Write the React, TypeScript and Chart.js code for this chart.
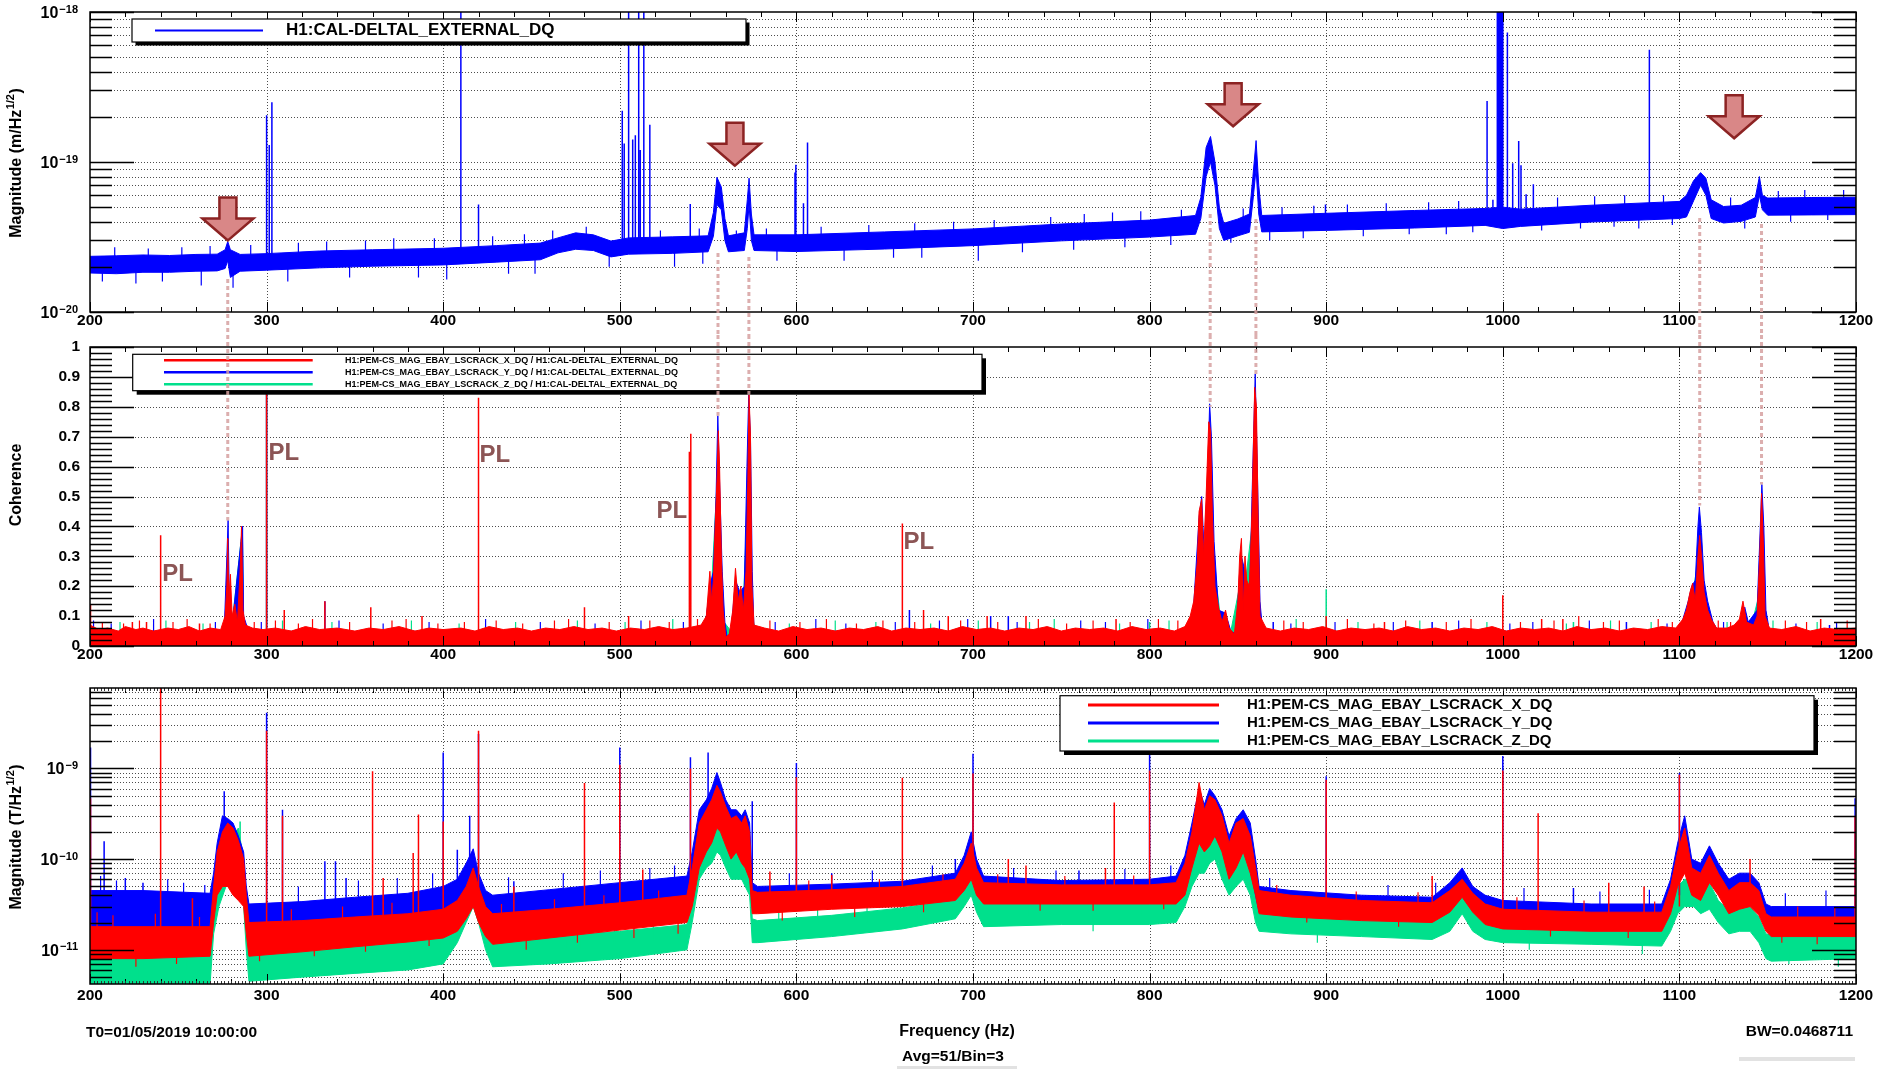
import React, { useEffect, useRef } from "react";
import { Chart, registerables } from "chart.js";

Chart.register(...registerables);

// ---------------- shared ----------------
const FF = "'Liberation Sans', Arial, Helvetica, sans-serif";
const PAGE_W = 1880;
const FREQ_MIN = 200;
const FREQ_MAX = 1200;
const FREQ_TICKS = [200, 300, 400, 500, 600, 700, 800, 900, 1000, 1100, 1200];
const FREQ_MINOR_STEP = 20;

const BLUE = "#0000ff";
const RED = "#ff0000";
const GREEN = "#00e08c";
const LINK_COLOR = "rgba(214,160,160,0.85)";
const ARROW_FILL = "#d98787";
const ARROW_EDGE = "#8c2323";
const PL_COLOR = "#8c5555";

// ---------------- panel 1 : DARM ASD ----------------
const DARM_RANGE = [1e-20, 1e-18];
const DARM_LEGEND = "H1:CAL-DELTAL_EXTERNAL_DQ";
// [frequency, lower edge, upper edge] of the noise band
const DARM_BAND: Array<[number, number, number]> = [
  [200, 1.82e-20, 2.35e-20], [215, 1.8e-20, 2.37e-20], [230, 1.84e-20, 2.4e-20], [245, 1.84e-20, 2.38e-20],
  [260, 1.87e-20, 2.42e-20], [272, 1.88e-20, 2.43e-20], [276.5, 1.95e-20, 2.6e-20], [278, 2.2e-20, 2.95e-20],
  [279.5, 1.7e-20, 2.6e-20], [285, 1.87e-20, 2.42e-20], [300, 1.9e-20, 2.45e-20], [330, 1.97e-20, 2.55e-20],
  [360, 2.02e-20, 2.6e-20], [400, 2.06e-20, 2.66e-20], [430, 2.15e-20, 2.77e-20], [455, 2.23e-20, 2.88e-20],
  [465, 2.48e-20, 3.12e-20], [475, 2.62e-20, 3.37e-20], [485, 2.57e-20, 3.27e-20], [495, 2.33e-20, 2.97e-20],
  [505, 2.43e-20, 3.12e-20], [530, 2.46e-20, 3.17e-20], [550, 2.52e-20, 3.22e-20], [553, 3.2e-20, 4.6e-20],
  [555, 5.2e-20, 7.9e-20], [557.5, 4.8e-20, 6.8e-20], [559.5, 3.0e-20, 4.2e-20], [561.5, 2.52e-20, 3.22e-20],
  [570.5, 2.57e-20, 3.37e-20], [572.2, 3.6e-20, 5.6e-20], [573.2, 5.2e-20, 7.8e-20], [574.5, 3.0e-20, 4.5e-20],
  [576, 2.57e-20, 3.27e-20], [600, 2.53e-20, 3.27e-20], [650, 2.63e-20, 3.42e-20], [700, 2.77e-20, 3.58e-20],
  [750, 2.98e-20, 3.86e-20], [800, 3.16e-20, 4.1e-20], [826, 3.3e-20, 4.4e-20], [829, 4.2e-20, 5.8e-20],
  [832, 8.0e-20, 1.25e-19], [834.5, 1.0e-19, 1.48e-19], [837, 7.0e-20, 1.0e-19], [839.5, 3.6e-20, 5.0e-20],
  [842, 3.0e-20, 3.9e-20], [850, 3.22e-20, 4.17e-20], [856.5, 3.4e-20, 4.5e-20], [858.5, 5.5e-20, 8.0e-20],
  [860.3, 9.0e-20, 1.39e-19], [861.8, 4.5e-20, 7.0e-20], [863.5, 3.42e-20, 4.4e-20], [900, 3.5e-20, 4.55e-20],
  [950, 3.63e-20, 4.75e-20], [990, 3.78e-20, 4.9e-20], [1000, 3.6e-20, 5.0e-20], [1010, 3.72e-20, 4.85e-20],
  [1050, 3.98e-20, 5.15e-20], [1100, 4.2e-20, 5.46e-20], [1104, 4.3e-20, 6.0e-20], [1108, 5.5e-20, 7.5e-20],
  [1112, 7.0e-20, 8.5e-20], [1115, 6.0e-20, 7.8e-20], [1118, 4.2e-20, 5.6e-20], [1125, 3.92e-20, 5.05e-20],
  [1135, 4.02e-20, 5.15e-20], [1143, 4.3e-20, 5.8e-20], [1145.3, 6.0e-20, 8.0e-20], [1147, 4.8e-20, 6.0e-20],
  [1150, 4.42e-20, 5.75e-20], [1175, 4.44e-20, 5.8e-20], [1200, 4.46e-20, 5.82e-20],
];
// [frequency, foot, top] of narrow lines
const DARM_LINES: Array<[number, number, number]> = [
  [300, 2.2e-20, 2.05e-19], [301.5, 2.2e-20, 1.3e-19], [303, 2.2e-20, 2.5e-19], [410, 2.4e-20, 3e-18],
  [420, 2.4e-20, 5.2e-20], [501.4, 2.7e-20, 2.2e-19], [502.5, 2.7e-20, 1.33e-19], [505, 2.7e-20, 3e-18],
  [507.3, 2.7e-20, 1.41e-19], [508.8, 2.7e-20, 1.51e-19], [510.7, 2.7e-20, 3e-18], [511.6, 2.7e-20, 1.2e-19],
  [513.6, 2.7e-20, 3e-18], [517, 2.7e-20, 1.77e-19], [539.9, 2.8e-20, 5.25e-20], [599.2, 2.9e-20, 8.5e-20],
  [599.7, 2.9e-20, 9.6e-20], [604, 2.9e-20, 5.3e-20], [606.3, 2.9e-20, 1.35e-19], [899.6, 4.0e-20, 5.2e-20],
  [991.1, 4.3e-20, 2.55e-19], [994.4, 4.3e-20, 5.6e-20], [996.9, 4.3e-20, 3e-18], [997.7, 4.3e-20, 3e-18],
  [998.5, 4.3e-20, 3e-18], [999.3, 4.3e-20, 3e-18], [1000, 4.3e-20, 3e-18], [1002.6, 4.3e-20, 7.3e-19],
  [1005.6, 4.3e-20, 9.8e-20], [1009, 4.3e-20, 1.38e-19], [1010.3, 4.3e-20, 9.5e-20], [1013.2, 4.3e-20, 6.1e-20],
  [1017.3, 4.3e-20, 7.1e-20], [1083, 4.7e-20, 5.6e-19],
];
// [frequency, from, to] small noise excursions seen on the trace
const DARM_NOISE: Array<[number, number, number]> = [
  [207, 2.1e-20, 1.6e-20], [214, 2.1e-20, 2.7e-20], [226, 2.1e-20, 1.55e-20], [233, 2.1e-20, 2.65e-20],
  [241, 2.1e-20, 1.6e-20], [252, 2.1e-20, 2.7e-20], [263, 2.1e-20, 1.5e-20], [268, 2.15e-20, 2.75e-20],
  [281, 2.0e-20, 1.45e-20], [291, 2.2e-20, 2.8e-20], [312, 2.2e-20, 1.6e-20], [318, 2.2e-20, 2.9e-20],
  [334, 2.25e-20, 2.95e-20], [347, 2.25e-20, 1.7e-20], [356, 2.3e-20, 3.0e-20], [372, 2.3e-20, 3.1e-20],
  [386, 2.35e-20, 1.7e-20], [395, 2.35e-20, 3.1e-20], [402, 2.4e-20, 1.65e-20], [428, 2.4e-20, 3.2e-20],
  [437, 2.45e-20, 1.8e-20], [446, 2.5e-20, 3.3e-20], [452, 2.5e-20, 1.8e-20], [462, 2.7e-20, 3.5e-20],
  [481, 2.9e-20, 3.7e-20], [494, 2.7e-20, 2.0e-20], [523, 2.75e-20, 3.5e-20], [531, 2.75e-20, 2.0e-20],
  [545, 2.8e-20, 3.6e-20], [547, 2.8e-20, 2.1e-20], [566, 2.8e-20, 3.5e-20], [583, 2.85e-20, 3.6e-20],
  [589, 2.85e-20, 2.2e-20], [614, 2.9e-20, 3.7e-20], [627, 2.9e-20, 2.2e-20], [641, 2.95e-20, 3.8e-20],
  [655, 3.0e-20, 2.3e-20], [667, 3.0e-20, 3.9e-20], [671, 3.0e-20, 2.3e-20], [689, 3.1e-20, 4.0e-20],
  [703, 3.15e-20, 2.2e-20], [712, 3.2e-20, 4.1e-20], [728, 3.25e-20, 2.5e-20], [744, 3.3e-20, 4.3e-20],
  [757, 3.4e-20, 2.6e-20], [763, 3.4e-20, 4.5e-20], [779, 3.5e-20, 4.6e-20], [786, 3.5e-20, 2.7e-20],
  [795, 3.55e-20, 4.7e-20], [812, 3.6e-20, 2.8e-20], [818, 3.7e-20, 4.8e-20], [846, 3.6e-20, 2.9e-20],
  [853, 3.7e-20, 4.9e-20], [868, 3.9e-20, 3.0e-20], [875, 3.9e-20, 5.0e-20], [887, 3.95e-20, 3.1e-20],
  [893, 4.0e-20, 5.1e-20], [912, 4.05e-20, 5.2e-20], [921, 4.05e-20, 3.2e-20], [934, 4.1e-20, 5.3e-20],
  [947, 4.15e-20, 3.3e-20], [958, 4.2e-20, 5.4e-20], [968, 4.2e-20, 3.3e-20], [975, 4.25e-20, 5.5e-20],
  [983, 4.3e-20, 3.4e-20], [1022, 4.4e-20, 3.5e-20], [1031, 4.5e-20, 5.8e-20], [1044, 4.5e-20, 3.6e-20],
  [1052, 4.55e-20, 5.9e-20], [1063, 4.6e-20, 3.7e-20], [1069, 4.6e-20, 6.0e-20], [1077, 4.65e-20, 3.6e-20],
  [1091, 4.7e-20, 6.0e-20], [1096, 4.7e-20, 3.8e-20], [1129, 4.4e-20, 5.8e-20], [1137, 4.5e-20, 3.6e-20],
  [1156, 5.0e-20, 6.4e-20], [1163, 5.0e-20, 4.0e-20], [1171, 5.05e-20, 6.5e-20], [1184, 5.1e-20, 4.1e-20],
  [1193, 5.1e-20, 6.5e-20],
];
const ARROW_F = [278.1, 565.2, 847.3, 1131];
const ARROW_TIP = [3.0e-20, 9.45e-20, 1.73e-19, 1.44e-19];
const LINK_F = [278, 555.6, 573.1, 834.3, 860.2, 1111.5, 1146.5];
const LINK_MAG = [1.66e-20, 2.47e-20, 2.33e-20, 4.5e-20, 4.17e-20, 4.23e-20, 3.86e-20];
const LINK_COH = [0.42, 0.77, 0.84, 0.8, 0.9, 0.47, 0.54];

// ---------------- panel 2 : coherence ----------------
const COH_RANGE = [0, 1];
const COH_TICKS = [0, 0.1, 0.2, 0.3, 0.4, 0.5, 0.6, 0.7, 0.8, 0.9, 1];
const COH_LABELS = ["0", "0.1", "0.2", "0.3", "0.4", "0.5", "0.6", "0.7", "0.8", "0.9", "1"];
const COH_MINOR_STEP = 0.02;
const COH_LEGEND = [
  "H1:PEM-CS_MAG_EBAY_LSCRACK_X_DQ / H1:CAL-DELTAL_EXTERNAL_DQ",
  "H1:PEM-CS_MAG_EBAY_LSCRACK_Y_DQ / H1:CAL-DELTAL_EXTERNAL_DQ",
  "H1:PEM-CS_MAG_EBAY_LSCRACK_Z_DQ / H1:CAL-DELTAL_EXTERNAL_DQ",
];
// [frequency, upper edge of the band that starts at 0]
const COH_X_BAND: Array<[number, number]> = [
  [200, 0.07], [205, 0.055], [210, 0.06], [216, 0.05], [220, 0.065], [226, 0.055], [230, 0.06], [236, 0.05],
  [244, 0.06], [250, 0.055], [256, 0.065], [262, 0.05], [268, 0.06], [274, 0.055], [276.5, 0.1], [277.5, 0.2],
  [278, 0.36], [278.6, 0.15], [279.5, 0.24], [280.5, 0.1], [282, 0.14], [283.5, 0.08], [285, 0.25], [285.8, 0.4],
  [286.6, 0.12], [288, 0.07], [292, 0.06], [298, 0.055], [305, 0.06], [314, 0.05], [322, 0.065], [330, 0.055],
  [340, 0.06], [350, 0.05], [358, 0.06], [366, 0.055], [375, 0.065], [384, 0.05], [392, 0.06], [400, 0.055],
  [410, 0.06], [418, 0.05], [426, 0.065], [434, 0.055], [442, 0.06], [450, 0.05], [458, 0.06], [466, 0.055],
  [474, 0.065], [482, 0.055], [490, 0.06], [498, 0.05], [506, 0.06], [514, 0.055], [522, 0.065], [530, 0.055],
  [538, 0.06], [546, 0.07], [549, 0.1], [551, 0.25], [552, 0.15], [553, 0.22], [554, 0.4], [555, 0.55],
  [555.8, 0.72], [556.5, 0.6], [557.5, 0.3], [558.5, 0.12], [560, 0.03], [562, 0.04], [564, 0.12], [565.5, 0.26],
  [567, 0.15], [568.5, 0.2], [570, 0.12], [571.5, 0.25], [572.5, 0.55], [573.2, 0.84], [574, 0.7], [574.8, 0.2],
  [576, 0.07], [582, 0.06], [590, 0.05], [598, 0.065], [606, 0.055], [614, 0.06], [622, 0.05], [630, 0.06],
  [638, 0.055], [646, 0.065], [654, 0.05], [662, 0.06], [670, 0.055], [678, 0.06], [686, 0.05], [694, 0.065],
  [702, 0.055], [710, 0.06], [718, 0.05], [726, 0.06], [734, 0.055], [742, 0.065], [750, 0.05], [758, 0.06],
  [766, 0.055], [774, 0.06], [782, 0.05], [790, 0.065], [798, 0.055], [806, 0.06], [814, 0.05], [820, 0.065],
  [823, 0.1], [825, 0.15], [827, 0.28], [828, 0.45], [829.5, 0.49], [830.5, 0.3], [832, 0.5], [833.5, 0.75],
  [834.5, 0.72], [835.5, 0.45], [837, 0.2], [839, 0.13], [841, 0.08], [843, 0.12], [845, 0.06], [848, 0.04],
  [850, 0.15], [851, 0.3], [852, 0.36], [853, 0.12], [854, 0.3], [855, 0.22], [856.5, 0.2], [858, 0.45],
  [859.5, 0.865], [860.5, 0.8], [861.5, 0.4], [862.5, 0.1], [866, 0.06], [874, 0.05], [882, 0.06], [890, 0.055],
  [898, 0.065], [906, 0.05], [914, 0.06], [922, 0.055], [930, 0.06], [938, 0.05], [946, 0.065], [954, 0.055],
  [962, 0.06], [970, 0.05], [978, 0.06], [986, 0.055], [994, 0.065], [1002, 0.05], [1010, 0.06], [1018, 0.055],
  [1026, 0.06], [1034, 0.05], [1042, 0.065], [1050, 0.055], [1058, 0.06], [1066, 0.05], [1074, 0.06], [1082, 0.055],
  [1090, 0.065], [1098, 0.06], [1102, 0.09], [1104, 0.12], [1106, 0.18], [1107.5, 0.21], [1109, 0.15], [1110.5, 0.3],
  [1111.5, 0.37], [1112.5, 0.3], [1114, 0.18], [1116, 0.12], [1118, 0.09], [1121, 0.06], [1127, 0.06], [1131, 0.07],
  [1134, 0.09], [1136, 0.15], [1138, 0.08], [1142, 0.07], [1144, 0.1], [1145.5, 0.3], [1146.5, 0.51], [1147.5, 0.35],
  [1148.5, 0.1], [1151, 0.06], [1158, 0.055], [1166, 0.065], [1174, 0.05], [1182, 0.06], [1190, 0.055], [1200, 0.06],
];
const COH_Y_BAND: Array<[number, number]> = [
  [200, 0.05], [220, 0.045], [240, 0.05], [258, 0.045], [276, 0.05], [277.5, 0.3], [278.2, 0.42], [279, 0.12],
  [281, 0.1], [285.5, 0.35], [286.3, 0.4], [287, 0.1], [290, 0.045], [320, 0.05], [350, 0.045], [380, 0.05],
  [400, 0.045], [430, 0.05], [450, 0.045], [480, 0.05], [500, 0.045], [525, 0.05], [548, 0.05], [551, 0.2],
  [553, 0.25], [554.5, 0.5], [555.5, 0.77], [556.5, 0.55], [558, 0.25], [559.5, 0.08], [561, 0.02], [563, 0.05],
  [565.5, 0.22], [568, 0.18], [570.5, 0.2], [572, 0.6], [573, 0.84], [574, 0.7], [575, 0.25], [576, 0.05],
  [600, 0.045], [625, 0.05], [650, 0.045], [675, 0.05], [700, 0.045], [725, 0.05], [750, 0.045], [775, 0.05],
  [800, 0.045], [822, 0.05], [825, 0.14], [828, 0.43], [829.5, 0.5], [831, 0.3], [833, 0.6], [834, 0.81],
  [835, 0.7], [836.5, 0.35], [839, 0.12], [843, 0.11], [846, 0.05], [849, 0.04], [851, 0.25], [852, 0.3],
  [854, 0.25], [856.5, 0.12], [858, 0.5], [859.8, 0.91], [861, 0.6], [862.5, 0.15], [864, 0.05], [885, 0.045],
  [900, 0.05], [925, 0.045], [950, 0.05], [975, 0.045], [1000, 0.05], [1025, 0.045], [1050, 0.05], [1075, 0.045],
  [1100, 0.05], [1105, 0.15], [1107, 0.2], [1109, 0.22], [1110.5, 0.4], [1111.3, 0.465], [1112.5, 0.38], [1114, 0.22],
  [1116, 0.15], [1119, 0.08], [1122, 0.05], [1135, 0.05], [1137, 0.13], [1139, 0.08], [1144, 0.12], [1145.8, 0.4],
  [1146.7, 0.54], [1147.8, 0.4], [1149, 0.12], [1151, 0.05], [1175, 0.045], [1200, 0.05],
];
const COH_Z_BAND: Array<[number, number]> = [
  [200, 0.045], [230, 0.05], [250, 0.045], [276, 0.05], [278, 0.2], [280, 0.05], [285.5, 0.35], [286.3, 0.38],
  [287, 0.08], [290, 0.045], [320, 0.05], [350, 0.045], [380, 0.05], [400, 0.045], [430, 0.05], [450, 0.045],
  [480, 0.05], [500, 0.045], [525, 0.05], [548, 0.045], [552, 0.2], [555.5, 0.6], [557, 0.35], [559, 0.08],
  [563, 0.05], [566, 0.15], [570, 0.15], [572, 0.45], [573, 0.74], [574, 0.5], [575, 0.1], [577, 0.045],
  [610, 0.05], [650, 0.045], [680, 0.05], [700, 0.045], [730, 0.05], [750, 0.045], [790, 0.05], [822, 0.045],
  [826, 0.15], [829, 0.35], [831, 0.25], [834, 0.55], [836, 0.3], [840, 0.1], [846, 0.05], [851, 0.2],
  [854, 0.2], [858, 0.4], [859.5, 0.66], [861, 0.4], [862.5, 0.1], [865, 0.045], [910, 0.05], [950, 0.045],
  [980, 0.05], [1000, 0.045], [1050, 0.05], [1080, 0.045], [1100, 0.05], [1106, 0.12], [1111, 0.3], [1114, 0.15],
  [1120, 0.05], [1140, 0.05], [1145.5, 0.18], [1146.7, 0.25], [1148, 0.15], [1150, 0.045], [1180, 0.05], [1200, 0.045],
];
// [frequency, top] narrow coherence lines
const COH_X_LINES: Array<[number, number]> = [
  [200.3, 0.14], [224, 0.08], [232, 0.08], [240, 0.37], [262, 0.075], [300, 0.86], [310, 0.12], [333, 0.15],
  [359, 0.13], [388, 0.1], [420, 0.83], [480, 0.13], [505, 0.1], [539.4, 0.65], [540.2, 0.71], [660, 0.41],
  [672, 0.12], [686, 0.1], [708, 0.1], [730, 0.1], [781, 0.09], [900, 0.1], [933, 0.08], [1000, 0.17],
  [1022, 0.09], [1034, 0.09], [1104, 0.1], [1180, 0.09],
];
const COH_Y_LINES: Array<[number, number]> = [
  [286.3, 0.4], [300, 0.85], [333, 0.15], [664, 0.12], [710, 0.1], [720, 0.1], [870, 0.08], [960, 0.08],
  [1070, 0.08], [1185, 0.07],
];
const COH_Z_LINES: Array<[number, number]> = [[300, 0.86], [800, 0.08], [900, 0.19], [1040, 0.08]];
// small noise excursions [frequency, top]
const COH_X_NOISE: Array<[number, number]> = [
  [207, 0.08], [219, 0.075], [228, 0.085], [247, 0.08], [255, 0.09], [268, 0.075], [293, 0.08], [305, 0.085],
  [318, 0.075], [326, 0.09], [347, 0.08], [371, 0.085], [379, 0.09], [397, 0.075], [412, 0.08], [430, 0.085],
  [445, 0.075], [463, 0.085], [471, 0.09], [494, 0.08], [517, 0.085], [528, 0.08], [544, 0.09], [585, 0.085],
  [602, 0.08], [617, 0.09], [634, 0.075], [649, 0.085], [667, 0.08], [693, 0.085], [714, 0.08], [737, 0.09],
  [753, 0.075], [768, 0.085], [789, 0.08], [805, 0.09], [816, 0.085], [876, 0.085], [887, 0.08], [912, 0.09],
  [927, 0.075], [945, 0.085], [968, 0.08], [982, 0.09], [1010, 0.08], [1029, 0.085], [1043, 0.1], [1057, 0.08],
  [1066, 0.085], [1088, 0.09], [1096, 0.08], [1122, 0.085], [1129, 0.08], [1160, 0.085], [1172, 0.08], [1195, 0.085],
];
const COH_Y_NOISE: Array<[number, number]> = [
  [202, 0.085], [212, 0.075], [236, 0.09], [271, 0.08], [297, 0.08], [341, 0.085], [366, 0.075], [392, 0.08],
  [424, 0.09], [455, 0.08], [486, 0.075], [512, 0.085], [536, 0.08], [588, 0.08], [611, 0.09], [628, 0.075],
  [656, 0.08], [681, 0.085], [697, 0.09], [725, 0.08], [761, 0.085], [775, 0.08], [799, 0.09], [880, 0.075],
  [905, 0.08], [938, 0.08], [975, 0.085], [1004, 0.075], [1017, 0.08], [1049, 0.085], [1093, 0.075], [1125, 0.08],
  [1166, 0.075], [1189, 0.08],
];
const COH_Z_NOISE: Array<[number, number]> = [
  [217, 0.08], [243, 0.085], [264, 0.075], [309, 0.085], [337, 0.08], [382, 0.085], [409, 0.075], [441, 0.08],
  [476, 0.085], [503, 0.08], [530, 0.09], [596, 0.075], [622, 0.085], [645, 0.08], [676, 0.075], [703, 0.085],
  [732, 0.08], [746, 0.09], [783, 0.075], [811, 0.085], [883, 0.09], [918, 0.08], [953, 0.085], [991, 0.08],
  [1036, 0.075], [1061, 0.085], [1084, 0.08], [1127, 0.08], [1153, 0.085], [1178, 0.08],
];
const PL_F = [249.6, 309.7, 429.2, 529.4, 669.3];
const PL_COH = [0.241, 0.643, 0.636, 0.449, 0.348];
const PL_TEXT = "PL";

// ---------------- panel 3 : magnetometer ASD ----------------
const MAG_RANGE = [4.2e-12, 7.7e-9];
const MAG_LEGEND = ["H1:PEM-CS_MAG_EBAY_LSCRACK_X_DQ", "H1:PEM-CS_MAG_EBAY_LSCRACK_Y_DQ", "H1:PEM-CS_MAG_EBAY_LSCRACK_Z_DQ"];
const MAG_X_BAND: Array<[number, number, number]> = [
  [200, 0.8e-11, 1.8e-11], [230, 0.8e-11, 1.8e-11], [268, 0.85e-11, 1.8e-11], [270, 2e-11, 5e-11],
  [272, 4e-11, 12e-11], [275, 5e-11, 20e-11], [278, 5e-11, 25e-11], [281, 4e-11, 22e-11], [284, 3.5e-11, 16e-11],
  [287, 3e-11, 10e-11], [288.5, 1.5e-11, 4e-11], [290, 0.85e-11, 2e-11], [320, 0.95e-11, 2.1e-11], [350, 1.08e-11, 2.3e-11],
  [380, 1.22e-11, 2.5e-11], [400, 1.35e-11, 2.8e-11], [408, 1.6e-11, 3.5e-11], [413, 2.2e-11, 5e-11], [417, 3e-11, 8e-11],
  [420, 2e-11, 5e-11], [424, 1.4e-11, 3e-11], [428, 1.15e-11, 2.5e-11], [460, 1.35e-11, 2.8e-11], [500, 1.65e-11, 3.3e-11],
  [538, 2e-11, 4e-11], [541, 3e-11, 8e-11], [545, 8e-11, 25e-11], [549, 12e-11, 35e-11], [552, 15e-11, 45e-11],
  [555, 22e-11, 65e-11], [557, 20e-11, 55e-11], [560, 14e-11, 38e-11], [563, 10e-11, 28e-11], [566, 12e-11, 30e-11],
  [569, 9e-11, 25e-11], [571, 8e-11, 30e-11], [573.5, 6e-11, 20e-11], [575, 2.5e-11, 4.5e-11], [578, 2.5e-11, 4.3e-11],
  [620, 2.8e-11, 4.6e-11], [660, 3.0e-11, 5.0e-11], [690, 3.5e-11, 6e-11], [695, 4.5e-11, 9e-11], [699, 6e-11, 15e-11],
  [702, 4e-11, 8e-11], [706, 3.2e-11, 5.5e-11], [750, 3.2e-11, 5.2e-11], [800, 3.2e-11, 5.2e-11], [815, 3.2e-11, 5.5e-11],
  [820, 4e-11, 9e-11], [824, 8e-11, 20e-11], [828, 15e-11, 70e-11], [831, 12e-11, 35e-11], [834, 14e-11, 50e-11],
  [837, 18e-11, 45e-11], [841, 12e-11, 30e-11], [845, 6e-11, 15e-11], [849, 8e-11, 25e-11], [853, 12e-11, 28e-11],
  [857, 7e-11, 18e-11], [860, 4e-11, 8e-11], [862, 2.5e-11, 4.5e-11], [880, 2.3e-11, 4.0e-11], [920, 2.1e-11, 3.5e-11],
  [960, 2.0e-11, 3.3e-11], [970, 2.6e-11, 4.5e-11], [977, 3.8e-11, 6.0e-11], [983, 2.6e-11, 4.2e-11], [990, 1.9e-11, 3.2e-11],
  [1000, 1.7e-11, 2.8e-11], [1050, 1.6e-11, 2.6e-11], [1090, 1.6e-11, 2.6e-11], [1095, 2.5e-11, 5e-11], [1099, 5e-11, 12e-11],
  [1103, 7e-11, 22e-11], [1107, 4e-11, 8e-11], [1112, 3.5e-11, 7e-11], [1117, 5.5e-11, 11e-11], [1122, 4e-11, 7e-11],
  [1128, 2.5e-11, 4.5e-11], [1134, 2.8e-11, 5.5e-11], [1140, 3.0e-11, 5.5e-11], [1145, 2.4e-11, 4.5e-11], [1149, 1.6e-11, 2.5e-11],
  [1152, 1.4e-11, 2.3e-11], [1200, 1.4e-11, 2.3e-11],
];
const MAG_Y_BAND: Array<[number, number, number]> = [
  [200, 1.1e-11, 4.5e-11], [230, 1.1e-11, 4.5e-11], [268, 1.1e-11, 4.2e-11], [270, 2.5e-11, 7e-11],
  [272, 4.5e-11, 15e-11], [275, 6e-11, 30e-11], [278, 6e-11, 28e-11], [281, 5e-11, 25e-11], [284, 4e-11, 18e-11],
  [287, 3.5e-11, 12e-11], [288.5, 2e-11, 5e-11], [290, 1.3e-11, 3.2e-11], [320, 1.4e-11, 3.4e-11], [350, 1.6e-11, 3.8e-11],
  [380, 1.8e-11, 4.2e-11], [400, 2.0e-11, 5e-11], [408, 2.5e-11, 6e-11], [413, 3e-11, 9e-11], [417, 4e-11, 13e-11],
  [420, 3e-11, 7e-11], [424, 1.8e-11, 4.5e-11], [428, 1.6e-11, 4e-11], [460, 1.9e-11, 4.6e-11], [500, 2.3e-11, 5.5e-11],
  [538, 2.6e-11, 6.5e-11], [541, 4e-11, 12e-11], [545, 10e-11, 35e-11], [549, 14e-11, 45e-11], [552, 18e-11, 60e-11],
  [555, 25e-11, 90e-11], [557, 22e-11, 70e-11], [560, 16e-11, 45e-11], [563, 12e-11, 35e-11], [566, 13e-11, 35e-11],
  [569, 10e-11, 30e-11], [571, 9e-11, 35e-11], [573.5, 7e-11, 25e-11], [575, 3e-11, 5.5e-11], [578, 2.8e-11, 5e-11],
  [620, 3.0e-11, 5.3e-11], [660, 3.2e-11, 5.7e-11], [690, 3.8e-11, 7e-11], [695, 5e-11, 11e-11], [699, 7e-11, 20e-11],
  [702, 4.5e-11, 10e-11], [706, 3.4e-11, 6.5e-11], [750, 3.3e-11, 5.8e-11], [800, 3.3e-11, 6e-11], [815, 3.4e-11, 6.5e-11],
  [820, 4.5e-11, 11e-11], [824, 9e-11, 25e-11], [828, 16e-11, 60e-11], [831, 13e-11, 40e-11], [834, 16e-11, 60e-11],
  [837, 18e-11, 50e-11], [841, 13e-11, 35e-11], [845, 7e-11, 18e-11], [849, 9e-11, 28e-11], [853, 13e-11, 35e-11],
  [857, 8e-11, 25e-11], [860, 4e-11, 10e-11], [862, 2.6e-11, 5e-11], [880, 2.4e-11, 4.5e-11], [920, 2.2e-11, 4e-11],
  [960, 2.1e-11, 3.8e-11], [970, 2.8e-11, 5.5e-11], [977, 4e-11, 8e-11], [983, 2.8e-11, 5e-11], [990, 2.0e-11, 4e-11],
  [1000, 1.8e-11, 3.5e-11], [1050, 1.7e-11, 3.2e-11], [1090, 1.7e-11, 3.2e-11], [1095, 2.8e-11, 6e-11], [1099, 5.5e-11, 15e-11],
  [1103, 8e-11, 30e-11], [1107, 4.5e-11, 10e-11], [1112, 4e-11, 9e-11], [1117, 6e-11, 14e-11], [1122, 4.5e-11, 9e-11],
  [1128, 2.8e-11, 6e-11], [1134, 3e-11, 7e-11], [1140, 3.2e-11, 7e-11], [1145, 2.6e-11, 5.5e-11], [1149, 1.7e-11, 3.2e-11],
  [1152, 1.5e-11, 3e-11], [1200, 1.5e-11, 3e-11],
];
const MAG_Z_BAND: Array<[number, number, number]> = [
  [200, 0.4e-11, 0.9e-11], [230, 0.4e-11, 0.9e-11], [268, 0.42e-11, 0.9e-11], [270, 1.5e-11, 5e-11],
  [273, 3e-11, 9e-11], [277, 5e-11, 15e-11], [281, 5e-11, 18e-11], [284, 5e-11, 22e-11], [287, 3e-11, 10e-11],
  [288.5, 1e-11, 3e-11], [290, 0.45e-11, 1.0e-11], [320, 0.5e-11, 1.05e-11], [350, 0.55e-11, 1.12e-11], [380, 0.6e-11, 1.25e-11],
  [400, 0.7e-11, 1.4e-11], [408, 1.2e-11, 3e-11], [413, 2e-11, 5e-11], [417, 3e-11, 6.5e-11], [420, 2e-11, 4.5e-11],
  [424, 1e-11, 2.5e-11], [428, 0.65e-11, 1.3e-11], [460, 0.7e-11, 1.4e-11], [500, 0.8e-11, 1.6e-11], [538, 1.0e-11, 1.9e-11],
  [541, 2e-11, 6e-11], [545, 6e-11, 16e-11], [549, 8e-11, 22e-11], [552, 9e-11, 28e-11], [555, 12e-11, 35e-11],
  [557, 11e-11, 30e-11], [560, 8e-11, 22e-11], [563, 6e-11, 16e-11], [566, 6e-11, 18e-11], [569, 6e-11, 17e-11],
  [571, 5e-11, 16e-11], [573.5, 4e-11, 10e-11], [575, 1.2e-11, 2.2e-11], [578, 1.2e-11, 2.1e-11], [620, 1.4e-11, 2.4e-11],
  [660, 1.7e-11, 2.9e-11], [690, 2.2e-11, 3.6e-11], [695, 3e-11, 6e-11], [699, 4e-11, 9e-11], [702, 2.6e-11, 5e-11],
  [706, 1.8e-11, 3.2e-11], [750, 1.9e-11, 3.2e-11], [800, 1.9e-11, 3.3e-11], [815, 2.0e-11, 3.5e-11], [820, 3e-11, 6e-11],
  [824, 5e-11, 12e-11], [828, 7e-11, 16e-11], [831, 7e-11, 15e-11], [834, 9e-11, 22e-11], [837, 10e-11, 20e-11],
  [841, 6e-11, 13e-11], [845, 4e-11, 9e-11], [849, 5e-11, 12e-11], [853, 6e-11, 13e-11], [857, 4e-11, 9e-11],
  [860, 2e-11, 4e-11], [862, 1.6e-11, 2.9e-11], [880, 1.5e-11, 2.6e-11], [920, 1.4e-11, 2.4e-11], [960, 1.3e-11, 2.3e-11],
  [970, 1.6e-11, 3e-11], [977, 2.5e-11, 4.5e-11], [983, 1.6e-11, 2.8e-11], [990, 1.3e-11, 2.2e-11], [1000, 1.2e-11, 2.1e-11],
  [1050, 1.15e-11, 2.0e-11], [1090, 1.1e-11, 2.0e-11], [1095, 1.6e-11, 3e-11], [1099, 2.5e-11, 5e-11], [1103, 3e-11, 6e-11],
  [1108, 3e-11, 6e-11], [1112, 2.5e-11, 5e-11], [1117, 2.8e-11, 5.5e-11], [1122, 2e-11, 3.5e-11], [1128, 1.5e-11, 2.7e-11],
  [1134, 1.6e-11, 3e-11], [1140, 1.6e-11, 3e-11], [1145, 1.2e-11, 2.3e-11], [1149, 0.8e-11, 1.5e-11], [1152, 0.75e-11, 1.45e-11],
  [1200, 0.8e-11, 1.45e-11],
];
const MAG_X_LINES: Array<[number, number, number]> = [
  [200.3, 1.5e-11, 4.7e-10], [240, 1.5e-11, 2e-8], [258, 1.5e-11, 3.7e-11], [300, 2e-11, 2.6e-9],
  [309, 2e-11, 3e-10], [360, 2e-11, 9.3e-10], [366, 2e-11, 6.2e-11], [383, 2e-11, 1.17e-10],
  [386, 2e-11, 3.1e-10], [400, 2.2e-11, 2.6e-10], [420, 3e-11, 2.6e-9], [440, 2e-11, 5e-11],
  [480, 2.5e-11, 6.9e-10], [500, 2.5e-11, 1.1e-9], [513, 2.5e-11, 7.7e-11], [540, 3e-11, 1.0e-9],
  [585, 3.5e-11, 7.3e-11], [600, 3.5e-11, 8e-10], [620, 3.5e-11, 6.7e-11], [660, 4e-11, 7.9e-10],
  [700, 6e-11, 8.8e-10], [720, 4e-11, 1e-10], [730, 4e-11, 8.5e-11], [775, 4e-11, 8e-11],
  [780, 4e-11, 4.2e-10], [800, 4e-11, 9.5e-10], [900, 3e-11, 7.5e-10], [960, 3e-11, 6.5e-11],
  [1000, 2.5e-11, 9.5e-10], [1020, 2.5e-11, 3.2e-10], [1060, 2.5e-11, 5.5e-11], [1080, 2.5e-11, 5e-11],
  [1100, 3e-11, 8.5e-10], [1140, 3e-11, 1e-10], [1199.5, 2e-11, 3e-10],
];
const MAG_Y_LINES: Array<[number, number, number]> = [
  [200.3, 2e-11, 1.7e-9], [208, 2e-11, 1.57e-10], [220, 2e-11, 6.2e-11], [230, 2e-11, 5.5e-11],
  [276, 1e-10, 5.6e-10], [300, 2.5e-11, 4.1e-9], [309, 2.5e-11, 3.5e-10], [333, 2.5e-11, 9.5e-11],
  [339, 2.5e-11, 9.5e-11], [345, 2.5e-11, 6.2e-11], [400, 3e-11, 1.5e-9], [408, 3e-11, 1.27e-10],
  [415, 4e-11, 3e-10], [420, 4e-11, 2.4e-9], [440, 3e-11, 5.7e-11], [500, 3e-11, 1.7e-9],
  [540, 3.5e-11, 1.33e-9], [550, 2e-10, 1.5e-9], [575, 5e-11, 4.35e-10], [600, 4e-11, 1.15e-9],
  [620, 4e-11, 7e-11], [690, 5e-11, 1e-10], [700, 8e-11, 1.45e-9], [760, 4.5e-11, 7.5e-11],
  [800, 4.5e-11, 1.43e-9], [900, 3.5e-11, 8.2e-10], [1000, 3e-11, 1.37e-9], [1040, 3e-11, 4.8e-11],
  [1100, 4e-11, 8.9e-10], [1199.5, 3e-11, 4.7e-10],
];
const MAG_Z_LINES: Array<[number, number, number]> = [[285, 8e-11, 2.6e-10], [418, 3e-11, 7e-11]];
// small noise excursions [frequency, from, to]
const MAG_X_NOISE: Array<[number, number, number]> = [
  [204, 1.2e-11, 2.6e-11], [213, 1.2e-11, 2.4e-11], [226, 1.2e-11, 0.65e-11], [237, 1.2e-11, 2.5e-11],
  [249, 1.2e-11, 0.7e-11], [262, 1.2e-11, 2.3e-11], [296, 1.4e-11, 0.75e-11], [314, 1.5e-11, 2.8e-11],
  [327, 1.5e-11, 0.85e-11], [343, 1.6e-11, 3.0e-11], [356, 1.7e-11, 0.95e-11], [371, 1.8e-11, 3.3e-11],
  [392, 2e-11, 1.1e-11], [433, 1.7e-11, 3.2e-11], [447, 1.8e-11, 1.0e-11], [463, 2e-11, 3.6e-11],
  [476, 2.1e-11, 1.2e-11], [491, 2.3e-11, 4.0e-11], [508, 2.4e-11, 1.35e-11], [522, 2.6e-11, 4.5e-11],
  [533, 2.8e-11, 1.5e-11], [592, 3.4e-11, 2.1e-11], [607, 3.5e-11, 5.8e-11], [633, 3.7e-11, 2.3e-11],
  [647, 3.8e-11, 6.0e-11], [672, 4.0e-11, 2.6e-11], [683, 4.2e-11, 6.8e-11], [714, 4.1e-11, 6.8e-11],
  [738, 4.1e-11, 2.7e-11], [752, 4.1e-11, 6.5e-11], [768, 4.1e-11, 2.7e-11], [791, 4.1e-11, 6.6e-11],
  [808, 4.1e-11, 2.8e-11], [872, 3.1e-11, 5.2e-11], [889, 3e-11, 2e-11], [917, 2.7e-11, 4.4e-11],
  [941, 2.6e-11, 1.8e-11], [952, 2.6e-11, 4.3e-11], [1008, 2.2e-11, 3.8e-11], [1027, 2.1e-11, 1.4e-11],
  [1046, 2.0e-11, 3.5e-11], [1071, 2.0e-11, 1.35e-11], [1086, 2.0e-11, 3.4e-11], [1158, 1.8e-11, 1.2e-11],
  [1167, 1.8e-11, 3.0e-11], [1178, 1.8e-11, 1.15e-11], [1188, 1.8e-11, 2.9e-11],
];
const MAG_Y_NOISE: Array<[number, number, number]> = [
  [206, 2.5e-11, 6.5e-11], [215, 2.5e-11, 5.8e-11], [244, 2.5e-11, 6e-11], [253, 2.5e-11, 5.5e-11],
  [265, 2.5e-11, 5.2e-11], [318, 2.5e-11, 5e-11], [352, 2.8e-11, 5.8e-11], [374, 3e-11, 6.2e-11],
  [394, 3.3e-11, 7e-11], [437, 3e-11, 6.3e-11], [468, 3.3e-11, 7e-11], [489, 3.6e-11, 7.5e-11],
  [517, 3.8e-11, 8e-11], [531, 4e-11, 8.5e-11], [596, 4e-11, 7e-11], [643, 4.3e-11, 7.5e-11],
  [677, 5e-11, 8.5e-11], [723, 4.5e-11, 8e-11], [747, 4.5e-11, 7.5e-11], [786, 4.5e-11, 7.8e-11],
  [812, 4.8e-11, 8.5e-11], [868, 3.6e-11, 6.2e-11], [935, 3e-11, 5.2e-11], [962, 3e-11, 5.5e-11],
  [1012, 2.6e-11, 4.8e-11], [1055, 2.4e-11, 4.4e-11], [1083, 2.4e-11, 4.6e-11], [1160, 2.2e-11, 4.2e-11],
  [1183, 2.2e-11, 4.5e-11],
];
const MAG_Z_NOISE: Array<[number, number, number]> = [
  [210, 0.6e-11, 1.3e-11], [228, 0.6e-11, 0.35e-11], [236, 0.6e-11, 1.25e-11], [255, 0.6e-11, 1.2e-11],
  [301, 0.65e-11, 1.3e-11], [336, 0.75e-11, 1.6e-11], [362, 0.8e-11, 1.5e-11], [381, 0.85e-11, 1.8e-11],
  [398, 0.95e-11, 2.4e-11], [442, 1e-11, 1.9e-11], [470, 1.05e-11, 2.0e-11], [478, 1.05e-11, 3e-11],
  [497, 1.15e-11, 2.2e-11], [519, 1.25e-11, 2.3e-11], [590, 1.6e-11, 2.6e-11], [612, 1.8e-11, 2.9e-11],
  [640, 2e-11, 3.3e-11], [668, 2.2e-11, 3.5e-11], [731, 2.4e-11, 3.6e-11], [768, 2.4e-11, 1.6e-11],
  [795, 2.4e-11, 3.8e-11], [895, 1.9e-11, 1.2e-11], [930, 1.8e-11, 2.9e-11], [1015, 1.5e-11, 1.0e-11],
  [1063, 1.4e-11, 2.4e-11], [1079, 1.4e-11, 0.9e-11], [1162, 1.0e-11, 0.7e-11], [1175, 1.0e-11, 1.8e-11],
  [1190, 1.0e-11, 0.65e-11],
];

const FOOT_T0 = "T0=01/05/2019 10:00:00";
const FOOT_XTITLE = "Frequency (Hz)";
const FOOT_BW = "BW=0.0468711";
const FOOT_AVG = "Avg=51/Bin=3";

// ---------------- drawing helpers ----------------
function txt(ctx: any, s: string, x: number, y: number, size: number, align = "left", color = "#000") {
  ctx.font = `bold ${size}px ${FF}`;
  ctx.fillStyle = color;
  ctx.textAlign = align;
  ctx.textBaseline = "middle";
  ctx.fillText(s, x, y);
}

function powLabel(ctx: any, e: number, xr: number, y: number) {
  const sup = "\u2212" + Math.abs(e);
  ctx.fillStyle = "#000";
  ctx.textBaseline = "alphabetic";
  ctx.textAlign = "left";
  ctx.font = `bold 11px ${FF}`;
  const ws = ctx.measureText(sup).width;
  ctx.fillText(sup, xr - ws, y + 0.5);
  ctx.font = `bold 16px ${FF}`;
  const wb = ctx.measureText("10").width;
  ctx.fillText("10", xr - ws - 1 - wb, y + 6);
}

function yTitle(ctx: any, main: string, sup: string, tail: string, cx: number, cy: number) {
  ctx.save();
  ctx.translate(cx, cy);
  ctx.rotate(-Math.PI / 2);
  ctx.fillStyle = "#000";
  ctx.textBaseline = "middle";
  ctx.textAlign = "left";
  ctx.font = `bold 16px ${FF}`;
  const w1 = ctx.measureText(main).width;
  const w3 = ctx.measureText(tail).width;
  ctx.font = `bold 11px ${FF}`;
  const w2 = sup ? ctx.measureText(sup).width + 1 : 0;
  let x = -(w1 + w2 + w3) / 2;
  ctx.font = `bold 16px ${FF}`;
  ctx.fillText(main, x, 0);
  x += w1;
  if (sup) {
    ctx.font = `bold 11px ${FF}`;
    ctx.fillText(sup, x + 0.5, -6);
    x += w2;
  }
  ctx.font = `bold 16px ${FF}`;
  ctx.fillText(tail, x, 0);
  ctx.restore();
}

function legendBox(ctx: any, x: number, y: number, w: number, h: number, sh: number) {
  ctx.save();
  ctx.setLineDash([]);
  ctx.fillStyle = "#000";
  ctx.fillRect(x + sh, y + sh, w, h);
  ctx.fillStyle = "#fff";
  ctx.fillRect(x, y, w, h);
  ctx.strokeStyle = "#000";
  ctx.lineWidth = 1.2;
  ctx.strokeRect(x, y, w, h);
  ctx.restore();
}

function legendRow(ctx: any, color: string, x0: number, x1: number, y: number, lw: number, label: string, tx: number, size: number) {
  ctx.save();
  ctx.strokeStyle = color;
  ctx.lineWidth = lw;
  ctx.beginPath();
  ctx.moveTo(x0, y);
  ctx.lineTo(x1, y);
  ctx.stroke();
  txt(ctx, label, tx, y, size);
  ctx.restore();
}

function drawArrow(ctx: any, x: number, tipY: number) {
  const hw = 25.5, sw = 8.5, headH = 22, shaftH = 21;
  ctx.save();
  ctx.beginPath();
  ctx.moveTo(x, tipY);
  ctx.lineTo(x - hw, tipY - headH);
  ctx.lineTo(x - sw, tipY - headH);
  ctx.lineTo(x - sw, tipY - headH - shaftH);
  ctx.lineTo(x + sw, tipY - headH - shaftH);
  ctx.lineTo(x + sw, tipY - headH);
  ctx.lineTo(x + hw, tipY - headH);
  ctx.closePath();
  ctx.fillStyle = ARROW_FILL;
  ctx.fill();
  ctx.strokeStyle = ARROW_EDGE;
  ctx.lineWidth = 2.5;
  ctx.lineJoin = "miter";
  ctx.stroke();
  ctx.restore();
}

function logTicks(min: number, max: number) {
  const out: Array<{ v: number; major: boolean; e: number }> = [];
  const e0 = Math.floor(Math.log10(min)) - 1;
  const e1 = Math.ceil(Math.log10(max)) + 1;
  for (let e = e0; e <= e1; e++) {
    for (let k = 1; k <= 9; k++) {
      const v = k * Math.pow(10, e);
      if (v >= min * 0.9999 && v <= max * 1.0001) out.push({ v, major: k === 1, e });
    }
  }
  return out;
}

type Spec = {
  log: boolean;
  fineX: boolean;
  xLabelDy: number;
  extras: (ctx: any, chart: any) => void;
};

function panelPlugin(spec: Spec) {
  return {
    id: "rootPanel",
    beforeDatasetsDraw(chart: any) {
      const { ctx, chartArea: a } = chart;
      const xs = chart.scales.x, ys = chart.scales.y;
      ctx.save();
      ctx.strokeStyle = "#4d4d4d";
      ctx.lineWidth = 1;
      ctx.setLineDash([1, 2]);
      ctx.beginPath();
      for (const f of FREQ_TICKS) {
        if (f <= FREQ_MIN || f >= FREQ_MAX) continue;
        const x = Math.round(xs.getPixelForValue(f)) + 0.5;
        ctx.moveTo(x, a.top);
        ctx.lineTo(x, a.bottom);
      }
      const yv = spec.log ? logTicks(ys.min, ys.max).map((t) => t.v) : COH_TICKS;
      for (const v of yv) {
        const y = Math.round(ys.getPixelForValue(v)) + 0.5;
        if (y <= a.top + 1 || y >= a.bottom - 1) continue;
        ctx.moveTo(a.left, y);
        ctx.lineTo(a.right, y);
      }
      ctx.stroke();
      ctx.restore();
    },
    afterDatasetsDraw(chart: any) {
      const { ctx, chartArea: a } = chart;
      const xs = chart.scales.x, ys = chart.scales.y;
      ctx.save();
      ctx.setLineDash([]);
      ctx.strokeStyle = "#000";
      ctx.lineWidth = 1;
      ctx.beginPath();
      for (let f = FREQ_MIN; f <= FREQ_MAX + 0.01; f += FREQ_MINOR_STEP) {
        const x = Math.round(xs.getPixelForValue(f)) + 0.5;
        const len = f % 100 === 0 ? 10 : 5;
        ctx.moveTo(x, a.bottom);
        ctx.lineTo(x, a.bottom - len);
        ctx.moveTo(x, a.top);
        ctx.lineTo(x, a.top + len);
      }
      ctx.stroke();
      if (spec.fineX) {
        ctx.strokeStyle = "#333";
        ctx.beginPath();
        for (let f = FREQ_MIN; f <= FREQ_MAX + 0.01; f += 2) {
          const x = Math.round(xs.getPixelForValue(f)) + 0.5;
          ctx.moveTo(x, a.bottom);
          ctx.lineTo(x, a.bottom - 3);
          ctx.moveTo(x, a.top);
          ctx.lineTo(x, a.top + 3);
        }
        ctx.stroke();
      }
      ctx.strokeStyle = "#000";
      ctx.lineWidth = 1.3;
      ctx.beginPath();
      const yt: Array<{ v: number; major: boolean }> = spec.log
        ? logTicks(ys.min, ys.max)
        : Array.from({ length: Math.round(1 / COH_MINOR_STEP) + 1 }, (_, i) => ({ v: i * COH_MINOR_STEP, major: i % 5 === 0 }));
      for (const t of yt) {
        const y = Math.round(ys.getPixelForValue(t.v)) + 0.5;
        const len = t.major ? 44 : 22;
        ctx.moveTo(a.left, y);
        ctx.lineTo(a.left + len, y);
        ctx.moveTo(a.right, y);
        ctx.lineTo(a.right - len, y);
      }
      ctx.stroke();
      ctx.lineWidth = 1.5;
      ctx.strokeRect(a.left, a.top, a.right - a.left, a.bottom - a.top);
      ctx.restore();

      ctx.save();
      spec.extras(ctx, chart);
      ctx.restore();

      ctx.save();
      for (const f of FREQ_TICKS) txt(ctx, String(f), xs.getPixelForValue(f), a.bottom + spec.xLabelDy, 15.5, "center");
      if (spec.log) {
        for (const t of logTicks(ys.min, ys.max)) if (t.major) powLabel(ctx, t.e, 78, ys.getPixelForValue(t.v));
      } else {
        COH_TICKS.forEach((v, i) => txt(ctx, COH_LABELS[i], 80, ys.getPixelForValue(v), 15.5, "right"));
      }
      ctx.restore();
    },
  };
}

// ---------------- datasets ----------------
function bandSets(rows: Array<[number, number, number]>, color: string, loIndex: number) {
  return [
    { data: rows.map((r) => ({ x: r[0], y: r[2] })), borderColor: color, backgroundColor: color, borderWidth: 1, pointRadius: 0, fill: loIndex, borderJoinStyle: "bevel" },
    { data: rows.map((r) => ({ x: r[0], y: r[1] })), borderColor: color, borderWidth: 1, pointRadius: 0, fill: false, borderJoinStyle: "bevel" },
  ];
}
function cohBand(rows: Array<[number, number]>, color: string) {
  return { data: rows.map((r) => ({ x: r[0], y: r[1] })), borderColor: color, backgroundColor: color, borderWidth: 1, pointRadius: 0, fill: "origin", borderJoinStyle: "bevel" };
}
function spikeSet(rows: Array<number[]>, color: string, width: number) {
  const pts: Array<{ x: number; y: number | null }> = [];
  for (const r of rows) {
    const foot = r.length === 3 ? r[1] : 0;
    const top = r[r.length - 1];
    pts.push({ x: r[0], y: foot });
    pts.push({ x: r[0], y: top });
    pts.push({ x: r[0], y: null });
  }
  return { data: pts, borderColor: color, borderWidth: width, pointRadius: 0, fill: false, spanGaps: false };
}

function baseOptions(padTop: number, xAxisH: number, yType: string, yMin: number, yMax: number) {
  return {
    responsive: false,
    maintainAspectRatio: false,
    animation: false,
    devicePixelRatio: 1,
    events: [],
    layout: { padding: { top: padTop, right: PAGE_W - 1856, bottom: 0, left: 0 } },
    plugins: { legend: { display: false }, tooltip: { enabled: false }, title: { display: false } },
    elements: { point: { radius: 0 }, line: { tension: 0 } },
    scales: {
      x: {
        type: "linear", min: FREQ_MIN, max: FREQ_MAX,
        ticks: { display: false }, grid: { display: false }, border: { display: false },
        afterFit: (s: any) => { s.height = xAxisH; },
      },
      y: {
        type: yType, min: yMin, max: yMax,
        ticks: { display: false }, grid: { display: false }, border: { display: false },
        afterFit: (s: any) => { s.width = 90; },
      },
    },
  };
}

// ---------------- panel configs ----------------
function darmConfig() {
  return {
    type: "line",
    data: { datasets: [spikeSet(DARM_LINES, BLUE, 1.5), spikeSet(DARM_NOISE, BLUE, 1.2), ...bandSets(DARM_BAND, BLUE, 3)] },
    options: baseOptions(12, 23, "logarithmic", DARM_RANGE[0], DARM_RANGE[1]),
    plugins: [
      panelPlugin({
        log: true, fineX: false, xLabelDy: 8.5,
        extras: (ctx, chart) => {
          const xs = chart.scales.x, ys = chart.scales.y;
          ctx.strokeStyle = LINK_COLOR;
          ctx.lineWidth = 3;
          ctx.setLineDash([4, 3]);
          LINK_F.forEach((f, i) => {
            const x = xs.getPixelForValue(f);
            ctx.beginPath();
            ctx.moveTo(x, ys.getPixelForValue(LINK_MAG[i]));
            ctx.lineTo(x, chart.height);
            ctx.stroke();
          });
          ctx.setLineDash([]);
          ARROW_F.forEach((f, i) => drawArrow(ctx, xs.getPixelForValue(f), ys.getPixelForValue(ARROW_TIP[i])));
          legendBox(ctx, 132, 19, 614, 23, 3.5);
          legendRow(ctx, BLUE, 155, 263, 30.5, 2, DARM_LEGEND, 286, 17);
          yTitle(ctx, "Magnitude (m/Hz", "1/2", ")", 17, 163);
        },
      }),
    ],
  };
}

function cohConfig() {
  return {
    type: "line",
    data: {
      datasets: [
        spikeSet(COH_X_LINES, RED, 1.5), spikeSet(COH_X_NOISE, RED, 1.2), cohBand(COH_X_BAND, RED),
        spikeSet(COH_Y_LINES, BLUE, 1.5), spikeSet(COH_Y_NOISE, BLUE, 1.2), cohBand(COH_Y_BAND, BLUE),
        spikeSet(COH_Z_LINES, GREEN, 1.5), spikeSet(COH_Z_NOISE, GREEN, 1.2), cohBand(COH_Z_BAND, GREEN),
      ],
    },
    options: baseOptions(12, 34, "linear", COH_RANGE[0], COH_RANGE[1]),
    plugins: [
      panelPlugin({
        log: false, fineX: false, xLabelDy: 9,
        extras: (ctx, chart) => {
          const xs = chart.scales.x, ys = chart.scales.y;
          legendBox(ctx, 132.7, 19.3, 849.3, 36.4, 4);
          const colors = [RED, BLUE, GREEN];
          COH_LEGEND.forEach((s, i) => legendRow(ctx, colors[i], 164, 312.7, 25.3 + 12 * i, 2.6, s, 345, 9));
          ctx.strokeStyle = LINK_COLOR;
          ctx.lineWidth = 3;
          ctx.setLineDash([4, 3]);
          LINK_F.forEach((f, i) => {
            const x = xs.getPixelForValue(f);
            ctx.beginPath();
            ctx.moveTo(x, 0);
            ctx.lineTo(x, ys.getPixelForValue(LINK_COH[i]));
            ctx.stroke();
          });
          ctx.setLineDash([]);
          PL_F.forEach((f, i) => txt(ctx, PL_TEXT, xs.getPixelForValue(f), ys.getPixelForValue(PL_COH[i]), 24, "center", PL_COLOR));
          yTitle(ctx, "Coherence", "", "", 17, 150);
        },
      }),
    ],
  };
}

function magConfig() {
  return {
    type: "line",
    data: {
      datasets: [
        spikeSet(MAG_X_LINES, RED, 1.5), spikeSet(MAG_X_NOISE, RED, 1.2), ...bandSets(MAG_X_BAND, RED, 3),
        spikeSet(MAG_Y_LINES, BLUE, 1.5), spikeSet(MAG_Y_NOISE, BLUE, 1.2), ...bandSets(MAG_Y_BAND, BLUE, 7),
        spikeSet(MAG_Z_LINES, GREEN, 1.5), spikeSet(MAG_Z_NOISE, GREEN, 1.2), ...bandSets(MAG_Z_BAND, GREEN, 11),
      ],
    },
    options: baseOptions(8, 85, "logarithmic", MAG_RANGE[0], MAG_RANGE[1]),
    plugins: [
      panelPlugin({
        log: true, fineX: true, xLabelDy: 12,
        extras: (ctx, chart) => {
          legendBox(ctx, 1060, 15.7, 754, 55.3, 4);
          const colors = [RED, BLUE, GREEN];
          MAG_LEGEND.forEach((s, i) => legendRow(ctx, colors[i], 1088, 1219, 25 + 18 * i, 2.8, s, 1247, 15));
          yTitle(ctx, "Magnitude (T/Hz", "1/2", ")", 17, 157);
          txt(ctx, FOOT_XTITLE, 957, 352, 16, "center");
          txt(ctx, FOOT_T0, 86, 353, 15.5, "left");
          txt(ctx, FOOT_BW, 1853, 352, 15.5, "right");
          txt(ctx, FOOT_AVG, 953, 377, 15.5, "center");
          ctx.fillStyle = "#e2e2e2";
          ctx.fillRect(1739, 377, 116, 4);
          ctx.fillRect(897, 386, 120, 3);
        },
      }),
    ],
  };
}

function Panel({ height, make }: { height: number; make: () => any }) {
  const ref = useRef<HTMLCanvasElement>(null);
  useEffect(() => {
    const chart = new Chart(ref.current as HTMLCanvasElement, make());
    return () => chart.destroy();
  }, []);
  return <canvas ref={ref} width={PAGE_W} height={height} style={{ display: "block", width: PAGE_W, height }} />;
}

export default function App() {
  return (
    <div style={{ position: "absolute", left: 0, top: 0, width: PAGE_W, height: 1069, background: "#fff", overflow: "hidden" }}>
      <Panel height={335} make={darmConfig} />
      <Panel height={345} make={cohConfig} />
      <Panel height={389} make={magConfig} />
    </div>
  );
}
